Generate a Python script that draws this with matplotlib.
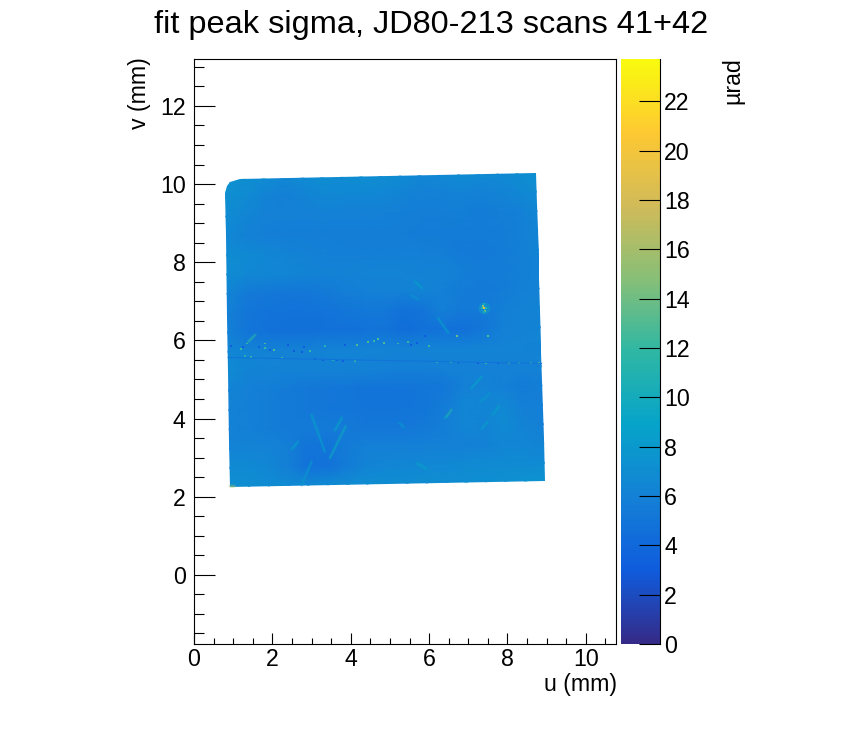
import numpy as np
import matplotlib
matplotlib.use('Agg')
import matplotlib.pyplot as plt
from matplotlib.colors import LinearSegmentedColormap, Normalize
from matplotlib.patches import Polygon
from matplotlib.ticker import MultipleLocator

plt.rcParams['font.family'] = ['Liberation Sans', 'DejaVu Sans']

title = 'fit peak sigma, JD80-213 scans 41+42'
z_max = 23.72
z_ticks = [0, 2, 4, 6, 8, 10, 12, 14, 16, 18, 20, 22]

# outline of the scanned area (mm)
edge_u = [0.79, 0.84, 0.92, 1.17, 8.74, 8.755, 8.80, 8.80, 8.86, 8.85, 8.93, 8.95, 0.92, 0.90, 0.87, 0.84, 0.82]
edge_v = [9.77, 9.96, 10.06, 10.13, 10.28, 9.50, 8.20, 7.60, 5.90, 5.70, 3.50, 2.39, 2.26, 3.40, 5.20, 6.60, 8.70]

# corners of the sigma table: top left, top right, bottom right, bottom left
corner_u = [0.78, 8.74, 8.97, 0.90]
corner_v = [10.16, 10.30, 2.37, 2.24]

# sigma in urad, top row first, read by eye
sigma = np.array([
    [7.6, 7.2, 6.9, 6.5, 6.8, 7.1, 6.9, 7.1, 7.0, 6.9, 6.4, 6.7, 6.9, 6.8, 6.7, 6.9, 7.2],
    [7.2, 6.8, 6.3, 5.9, 6.2, 6.6, 6.5, 6.5, 6.5, 6.3, 5.9, 5.9, 6.2, 6.0, 6.2, 6.5, 6.9],
    [6.9, 6.4, 6.0, 5.9, 5.9, 6.0, 5.9, 5.9, 5.9, 5.8, 5.7, 5.7, 5.8, 5.6, 5.7, 5.9, 6.5],
    [6.6, 6.1, 5.8, 5.7, 5.7, 5.7, 5.7, 5.7, 5.7, 5.7, 5.6, 5.6, 5.6, 5.6, 5.6, 5.8, 6.3],
    [6.9, 6.7, 6.5, 6.3, 6.1, 5.9, 5.8, 5.8, 5.8, 5.8, 5.8, 5.7, 5.5, 5.5, 5.6, 5.8, 6.3],
    [6.9, 6.6, 6.5, 6.4, 6.3, 6.1, 6.1, 6.2, 6.2, 6.2, 6.1, 6.2, 5.8, 5.6, 5.6, 5.8, 6.2],
    [6.3, 5.5, 5.3, 5.2, 5.2, 5.4, 5.7, 5.9, 6.0, 6.1, 6.3, 5.9, 5.6, 5.5, 5.6, 5.9, 6.2],
    [6.0, 5.1, 4.9, 4.8, 4.8, 4.9, 5.1, 5.3, 5.3, 4.7, 5.0, 5.9, 5.4, 5.4, 5.8, 6.1, 6.3],
    [6.0, 5.1, 4.8, 4.7, 4.6, 4.7, 4.7, 4.8, 5.0, 4.4, 4.7, 4.8, 4.6, 5.1, 5.8, 6.1, 6.3],
    [6.5, 6.3, 6.2, 6.1, 6.1, 6.2, 6.2, 6.2, 6.2, 6.1, 6.2, 6.2, 6.2, 6.2, 6.2, 6.2, 6.3],
    [6.8, 6.3, 6.2, 6.1, 6.1, 6.1, 6.1, 6.1, 6.0, 5.8, 5.8, 6.0, 6.0, 6.0, 6.0, 6.0, 6.1],
    [6.3, 5.9, 5.7, 5.5, 5.3, 5.2, 5.1, 5.0, 5.0, 5.0, 5.1, 5.3, 5.9, 6.2, 5.9, 5.6, 5.8],
    [6.1, 5.9, 5.7, 5.5, 5.3, 5.2, 5.1, 5.0, 5.0, 5.0, 5.1, 5.6, 6.5, 6.3, 6.6, 5.8, 5.8],
    [6.1, 5.9, 5.7, 5.5, 5.5, 5.5, 5.4, 5.2, 5.2, 5.2, 5.4, 5.8, 6.4, 6.2, 6.8, 6.2, 5.9],
    [6.2, 6.2, 6.2, 5.8, 4.9, 4.9, 5.6, 5.9, 5.9, 5.9, 5.9, 5.9, 5.9, 6.1, 6.4, 6.4, 6.2],
    [6.7, 6.7, 6.5, 5.8, 4.8, 4.8, 5.6, 6.3, 6.4, 6.4, 6.6, 6.6, 6.7, 6.7, 6.7, 6.7, 6.7],
    [7.1, 7.1, 6.9, 6.9, 6.7, 6.9, 7.0, 7.0, 7.0, 7.0, 7.0, 7.0, 7.1, 7.1, 7.3, 7.5, 7.6],
])

# thin dark line across the sample
gap_u = [0.875, 8.87]
gap_v = [5.56, 5.41]
gap_sigma = 5.0

# streaks: u from, u to, v from, v to, sigma
streak_u = [(3.00, 3.34), (3.77, 3.60), (3.87, 3.47), (6.45, 6.57), (6.40, 6.45), (7.08, 7.34),
            (7.35, 7.50), (7.63, 7.78), (1.39, 1.56), (6.23, 6.49), (5.64, 5.81), (5.55, 5.72),
            (2.65, 2.50), (3.00, 2.75), (5.70, 5.92), (0.93, 1.02), (7.30, 7.55), (5.25, 5.35)]
streak_v = [(4.09, 3.15), (4.01, 3.70), (3.80, 2.99), (4.05, 4.22), (4.02, 4.05), (4.78, 5.07),
            (3.75, 3.92), (4.10, 4.30), (5.97, 6.14), (6.57, 6.19), (7.50, 7.34), (7.15, 7.05),
            (3.40, 3.22), (2.90, 2.30), (2.85, 2.72), (2.28, 2.28), (4.42, 4.65), (3.88, 3.78)]
streak_sigma = [8.5, 9, 9.5, 11, 9, 9, 8.5, 8.5, 11.5, 8.5, 8.5, 7.5, 9, 8, 9, 15, 8, 8]

# isolated hot pixels along the gap and the bump near (7.4, 6.8)
spot_u = [7.40, 7.38, 7.43, 7.35, 7.46, 7.40, 7.40,
          1.20, 1.25, 1.30, 1.45, 1.65, 1.80, 1.95, 2.05, 2.25, 2.55, 2.75, 2.95, 3.10, 3.30,
          3.55, 3.80, 4.10, 4.45, 4.60, 4.85, 5.20, 5.55, 5.90, 6.20, 6.55, 6.75, 7.25, 7.45,
          7.75, 8.05, 8.30, 8.60, 8.80, 0.95, 1.35, 1.80, 2.40, 2.80, 3.35, 3.65, 3.85, 4.15,
          4.70, 5.45, 5.70, 6.00, 6.70, 7.50]
spot_v = [6.82, 6.88, 6.76, 6.82, 6.82, 6.72, 6.93,
          5.78, 5.83, 5.60, 5.58, 5.83, 5.80, 5.76, 5.75, 5.55, 5.73, 5.71, 5.72, 5.53, 5.50,
          5.49, 5.48, 5.47, 5.95, 5.98, 5.93, 5.92, 5.89, 6.10, 5.44, 5.44, 5.43, 5.43, 5.43,
          5.42, 5.42, 5.42, 5.41, 5.41, 5.85, 5.92, 5.92, 5.88, 5.84, 5.85, 5.50, 5.88, 5.88,
          6.03, 5.97, 5.93, 5.85, 6.10, 6.10]
spot_sigma = [19, 15, 14, 11, 11, 10, 10,
              12, 3, 11, 12, 3, 12, 3, 13, 12, 3, 3, 12, 3, 3,
              11, 3, 12, 13, 12, 13, 12, 3, 3, 11, 12, 3, 3, 12,
              3, 12, 11, 12, 13, 3, 12, 13, 3, 3, 11, 3, 3, 13,
              13, 12, 3, 12, 14, 13]

# ROOT kBird palette
stops = [0.0, 0.125, 0.25, 0.375, 0.5, 0.625, 0.75, 0.875, 1.0]
red = [0.2082, 0.0592, 0.0780, 0.0232, 0.1802, 0.5301, 0.8186, 0.9956, 0.9764]
green = [0.1664, 0.3599, 0.5041, 0.6419, 0.7178, 0.7492, 0.7328, 0.7862, 0.9832]
blue = [0.5293, 0.8684, 0.8385, 0.7914, 0.6425, 0.4662, 0.3499, 0.1968, 0.0539]
bird = LinearSegmentedColormap.from_list('bird', list(zip(stops, zip(red, green, blue))), N=255)
norm = Normalize(0, z_max)

W, H = 862, 732
fig = plt.figure(figsize=(W / 100, H / 100), dpi=100)
ax = fig.add_axes([194 / W, 1 - 644 / H, (616 - 194) / W, (644 - 59) / H])
cax = fig.add_axes([621 / W, 1 - 644 / H, (660 - 621) / W, (644 - 59) / H])

# spread the table over the slightly rotated sample
ny, nx = sigma.shape
s, t = np.meshgrid(np.linspace(0, 1, nx), np.linspace(0, 1, ny))
mesh_u = (1 - t) * ((1 - s) * corner_u[0] + s * corner_u[1]) + t * ((1 - s) * corner_u[3] + s * corner_u[2])
mesh_v = (1 - t) * ((1 - s) * corner_v[0] + s * corner_v[1]) + t * ((1 - s) * corner_v[3] + s * corner_v[2])
mesh = ax.pcolormesh(mesh_u, mesh_v, sigma, cmap=bird, norm=norm, shading='gouraud')
outline = Polygon(list(zip(edge_u, edge_v)), transform=ax.transData, fc='none', ec='none')
ax.add_patch(outline)
mesh.set_clip_path(outline)

# soft halo first, then the core of each streak
for su, sv, val in zip(streak_u, streak_v, streak_sigma):
    ax.plot(su, sv, color=bird(norm(val)), lw=2.6, alpha=0.25, solid_capstyle='round')
    ax.plot(su, sv, color=bird(norm(val)), lw=1.0, alpha=0.6, solid_capstyle='round')
ax.plot(gap_u, gap_v, color=bird(norm(gap_sigma)), lw=0.8)
ax.scatter(spot_u[:1], spot_v[:1], c=[9.5], cmap=bird, norm=norm, s=70, linewidths=0, alpha=0.45)
ax.scatter(spot_u, spot_v, c=spot_sigma, cmap=bird, norm=norm, s=2.0, marker='s', linewidths=0)

ax.set_xlim(0, 10.77)
ax.set_ylim(-1.77, 13.2)
ax.xaxis.set_major_locator(MultipleLocator(2))
ax.xaxis.set_minor_locator(MultipleLocator(0.5))
ax.yaxis.set_major_locator(MultipleLocator(2))
ax.yaxis.set_minor_locator(MultipleLocator(0.5))
ax.tick_params(axis='x', which='major', direction='in', length=8, width=0.8, labelsize=16.7, pad=3)
ax.tick_params(axis='x', which='minor', direction='in', length=4, width=0.8)
ax.tick_params(axis='y', which='major', direction='in', length=15, width=0.8, labelsize=16.7, pad=6)
ax.tick_params(axis='y', which='minor', direction='in', length=7.5, width=0.8)
for sp in ax.spines.values():
    sp.set_linewidth(0.8)

cb = fig.colorbar(mesh, cax=cax, ticks=z_ticks)
cb.outline.set_visible(False)
cax.spines['right'].set_visible(True)
cax.spines['right'].set_linewidth(0.8)
cax.tick_params(axis='y', which='major', direction='in', length=15, width=0.8, labelsize=16.7, pad=3)
cax.minorticks_off()

fig.text(431 / W, 1 - 25 / H, title, fontsize=23.4, ha='center', va='center')
fig.text(617 / W, 1 - 685 / H, 'u (mm)', fontsize=16.7, ha='right', va='center')
fig.text(140 / W, 1 - 57 / H, 'v (mm)', fontsize=16.7, rotation=90, ha='center', va='top')
fig.text(733 / W, 1 - 57 / H, 'µrad', fontsize=16.7, rotation=90, ha='center', va='top')

fig.savefig('out.png', dpi=100)
